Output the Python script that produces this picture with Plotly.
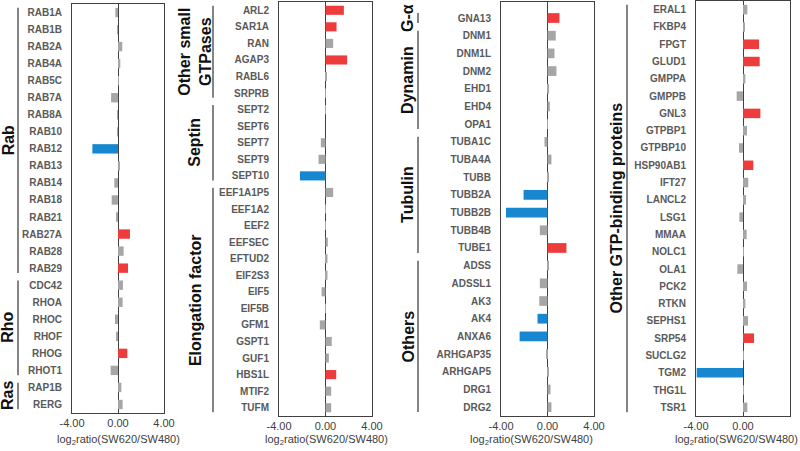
import plotly.graph_objects as go

# ---------------- data ----------------
p1_genes = ["RAB1A", "RAB1B", "RAB2A", "RAB4A", "RAB5C", "RAB7A", "RAB8A", "RAB10", "RAB12", "RAB13",
            "RAB14", "RAB18", "RAB21", "RAB27A", "RAB28", "RAB29", "CDC42", "RHOA", "RHOC", "RHOF",
            "RHOG", "RHOT1", "RAP1B", "RERG"]
p1_vals = [-0.23, -0.03, 0.37, 0.2, 0.02, -0.6, -0.02, -0.03, -2.23, 0.1,
           -0.32, -0.55, -0.17, 1.04, 0.49, 0.87, 0.43, 0.4, -0.26, -0.17,
           0.81, -0.64, 0.29, 0.4]
p1_sig = ["n", "n", "n", "n", "n", "n", "n", "n", "d", "n",
          "n", "n", "n", "u", "n", "u", "n", "n", "n", "n",
          "u", "n", "n", "n"]
p1_groups = [("Rab", 16), ("Rho", 6), ("Ras", 2)]

p2_genes = ["ARL2", "SAR1A", "RAN", "AGAP3", "RABL6", "SRPRB", "SEPT2", "SEPT6", "SEPT7", "SEPT9",
            "SEPT10", "EEF1A1P5", "EEF1A2", "EEF2", "EEFSEC", "EFTUD2", "EIF2S3", "EIF5", "EIF5B", "GFM1",
            "GSPT1", "GUF1", "HBS1L", "MTIF2", "TUFM"]
p2_vals = [1.58, 0.95, 0.66, 1.86, 0.1, 0.02, 0.01, 0.0, -0.4, -0.6,
           -2.2, 0.66, 0.01, 0.01, 0.2, 0.17, 0.17, -0.34, 0.03, -0.49,
           0.54, 0.29, 0.92, 0.49, 0.49]
p2_sig = ["u", "u", "n", "u", "n", "n", "n", "n", "n", "n",
          "d", "n", "n", "n", "n", "n", "n", "n", "n", "n",
          "n", "n", "u", "n", "n"]
p2_groups = [("Other small<br>GTPases", 6), ("Septin", 5), ("Elongation factor", 14)]

p3_genes = ["GNA13", "DNM1", "DNM1L", "DNM2", "EHD1", "EHD4", "OPA1", "TUBA1C", "TUBA4A", "TUBB",
            "TUBB2A", "TUBB2B", "TUBB4B", "TUBE1", "ADSS", "ADSSL1", "AK3", "AK4", "ANXA6", "ARHGAP35",
            "ARHGAP5", "DRG1", "DRG2"]
p3_vals = [1.03, 0.71, 0.6, 0.77, 0.14, 0.2, 0.02, -0.26, 0.34, 0.11,
           -2.06, -3.57, -0.66, 1.63, 0.11, -0.66, -0.71, -0.86, -2.4, -0.06,
           0.09, 0.26, 0.34]
p3_sig = ["u", "n", "n", "n", "n", "n", "n", "n", "n", "n",
          "d", "d", "n", "u", "n", "n", "n", "d", "d", "n",
          "n", "n", "n"]
p3_groups = [("G-α", 1), ("Dynamin", 6), ("Tubulin", 7), ("Others", 9)]

p4_genes = ["ERAL1", "FKBP4", "FPGT", "GLUD1", "GMPPA", "GMPPB", "GNL3", "GTPBP1", "GTPBP10", "HSP90AB1",
            "IFT27", "LANCL2", "LSG1", "MMAA", "NOLC1", "OLA1", "PCK2", "RTKN", "SEPHS1", "SRP54",
            "SUCLG2", "TGM2", "THG1L", "TSR1"]
p4_vals = [0.37, 0.11, 1.36, 1.42, 0.2, -0.54, 1.48, 0.34, -0.34, 0.88,
           0.45, 0.26, -0.31, 0.31, 0.03, -0.48, 0.34, 0.2, 0.43, 0.94,
           0.06, -3.94, 0.01, 0.37]
p4_sig = ["n", "n", "u", "u", "n", "n", "u", "n", "n", "u",
          "n", "n", "n", "n", "n", "n", "n", "n", "n", "u",
          "n", "d", "n", "n"]
p4_groups = [("Other GTP-binding proteins", 24)]

x_tickvals = [-4, 0, 4]
x_ticktext = ["-4.00", "0.00", "4.00"]
x_title = "log<sub>2</sub>ratio(SW620/SW480)"

# ---------------- style ----------------
FONT = "Liberation Sans, Arial, sans-serif"
COLORS = {"u": "#EE3B3B", "d": "#1788D0", "n": "#A6A6A6"}
AXC = "#404040"

panels = [
    dict(genes=p1_genes, vals=p1_vals, sig=p1_sig, groups=p1_groups,
         xdom=[72 / 800, 164 / 800], ydom=[1 - 413 / 451, 1 - 4 / 451],
         line_x=18 / 800, label_x=8 / 800, title_x=118 / 800),
    dict(genes=p2_genes, vals=p2_vals, sig=p2_sig, groups=p2_groups,
         xdom=[279 / 800, 372 / 800], ydom=[1 - 416 / 451, 1 - 2 / 451],
         line_x=213 / 800, label_x=195 / 800, title_x=326 / 800),
    dict(genes=p3_genes, vals=p3_vals, sig=p3_sig, groups=p3_groups,
         xdom=[501 / 800, 594 / 800], ydom=[1 - 416 / 451, 1 - 2 / 451],
         line_x=418 / 800, label_x=408 / 800, title_x=531 / 800),
    dict(genes=p4_genes, vals=p4_vals, sig=p4_sig, groups=p4_groups,
         xdom=[696 / 800, 790 / 800], ydom=[1 - 416 / 451, 1 - 1 / 451],
         line_x=627 / 800, label_x=616 / 800, title_x=736 / 800),
]

fig = go.Figure()
shapes = []
annotations = []
layout = {}

for i, p in enumerate(panels, start=1):
    xa = "x" if i == 1 else f"x{i}"
    ya = "y" if i == 1 else f"y{i}"
    fig.add_trace(go.Bar(
        x=p["vals"], y=p["genes"], orientation="h",
        marker=dict(color=[COLORS[s] for s in p["sig"]], line=dict(width=0)),
        xaxis=xa, yaxis=ya, showlegend=False, hoverinfo="x+y",
    ))
    layout[f"xaxis{i}" if i > 1 else "xaxis"] = dict(
        domain=p["xdom"], anchor=ya, range=[-4, 4],
        tickvals=x_tickvals, ticktext=x_ticktext,
        tickfont=dict(family=FONT, size=11, color=AXC),
        showgrid=False, zeroline=True, zerolinecolor=AXC, zerolinewidth=1.3,
        showline=True, linecolor=AXC, linewidth=1, mirror=True,
        ticks="", fixedrange=True, automargin=False,
    )
    layout[f"yaxis{i}" if i > 1 else "yaxis"] = dict(
        domain=p["ydom"], anchor=xa, type="category",
        categoryorder="array", categoryarray=p["genes"],
        autorange="reversed", automargin=False,
        tickfont=dict(family=FONT, size=10, color="#5a5a5a", weight="bold"),
        showgrid=False, zeroline=False, ticks="", ticklabelstandoff=7,
        showline=True, linecolor=AXC, linewidth=1, mirror=True,
    )
    # axis title
    annotations.append(dict(xref="paper", yref="paper", x=p["title_x"], y=1 - 440 / 451,
                            text=x_title, showarrow=False, xanchor="center", yanchor="middle",
                            font=dict(family=FONT, size=11, color=AXC)))
    start = 0
    for name, count in p["groups"]:
        end = start + count - 1
        shapes.append(dict(type="line", xref="paper", yref=ya,
                           x0=p["line_x"], x1=p["line_x"],
                           y0=start - 0.28, y1=end + 0.28,
                           line=dict(color="#333333", width=1.2)))
        annotations.append(dict(xref="paper", yref=ya, x=p["label_x"], y=(start + end) / 2,
                                text=f"<b>{name}</b>", textangle=-90, showarrow=False,
                                xanchor="center", yanchor="middle",
                                font=dict(family=FONT, size=16, color="#111111")))
        start += count

fig.update_layout(
    width=800, height=451, autosize=False,
    margin=dict(l=0, r=0, t=0, b=0, pad=0),
    paper_bgcolor="white", plot_bgcolor="white",
    bargap=0.45,
    shapes=shapes, annotations=annotations,
    **layout,
)

fig.write_html(
    "out.html",
    config={"responsive": False, "displayModeBar": False},
    post_script=(
        "document.body.style.margin='0';"
        "document.body.style.overflow='hidden';"
        "Plotly.relayout(document.getElementById('{plot_id}'), {width: 800, height: 451});"
    ),
)
